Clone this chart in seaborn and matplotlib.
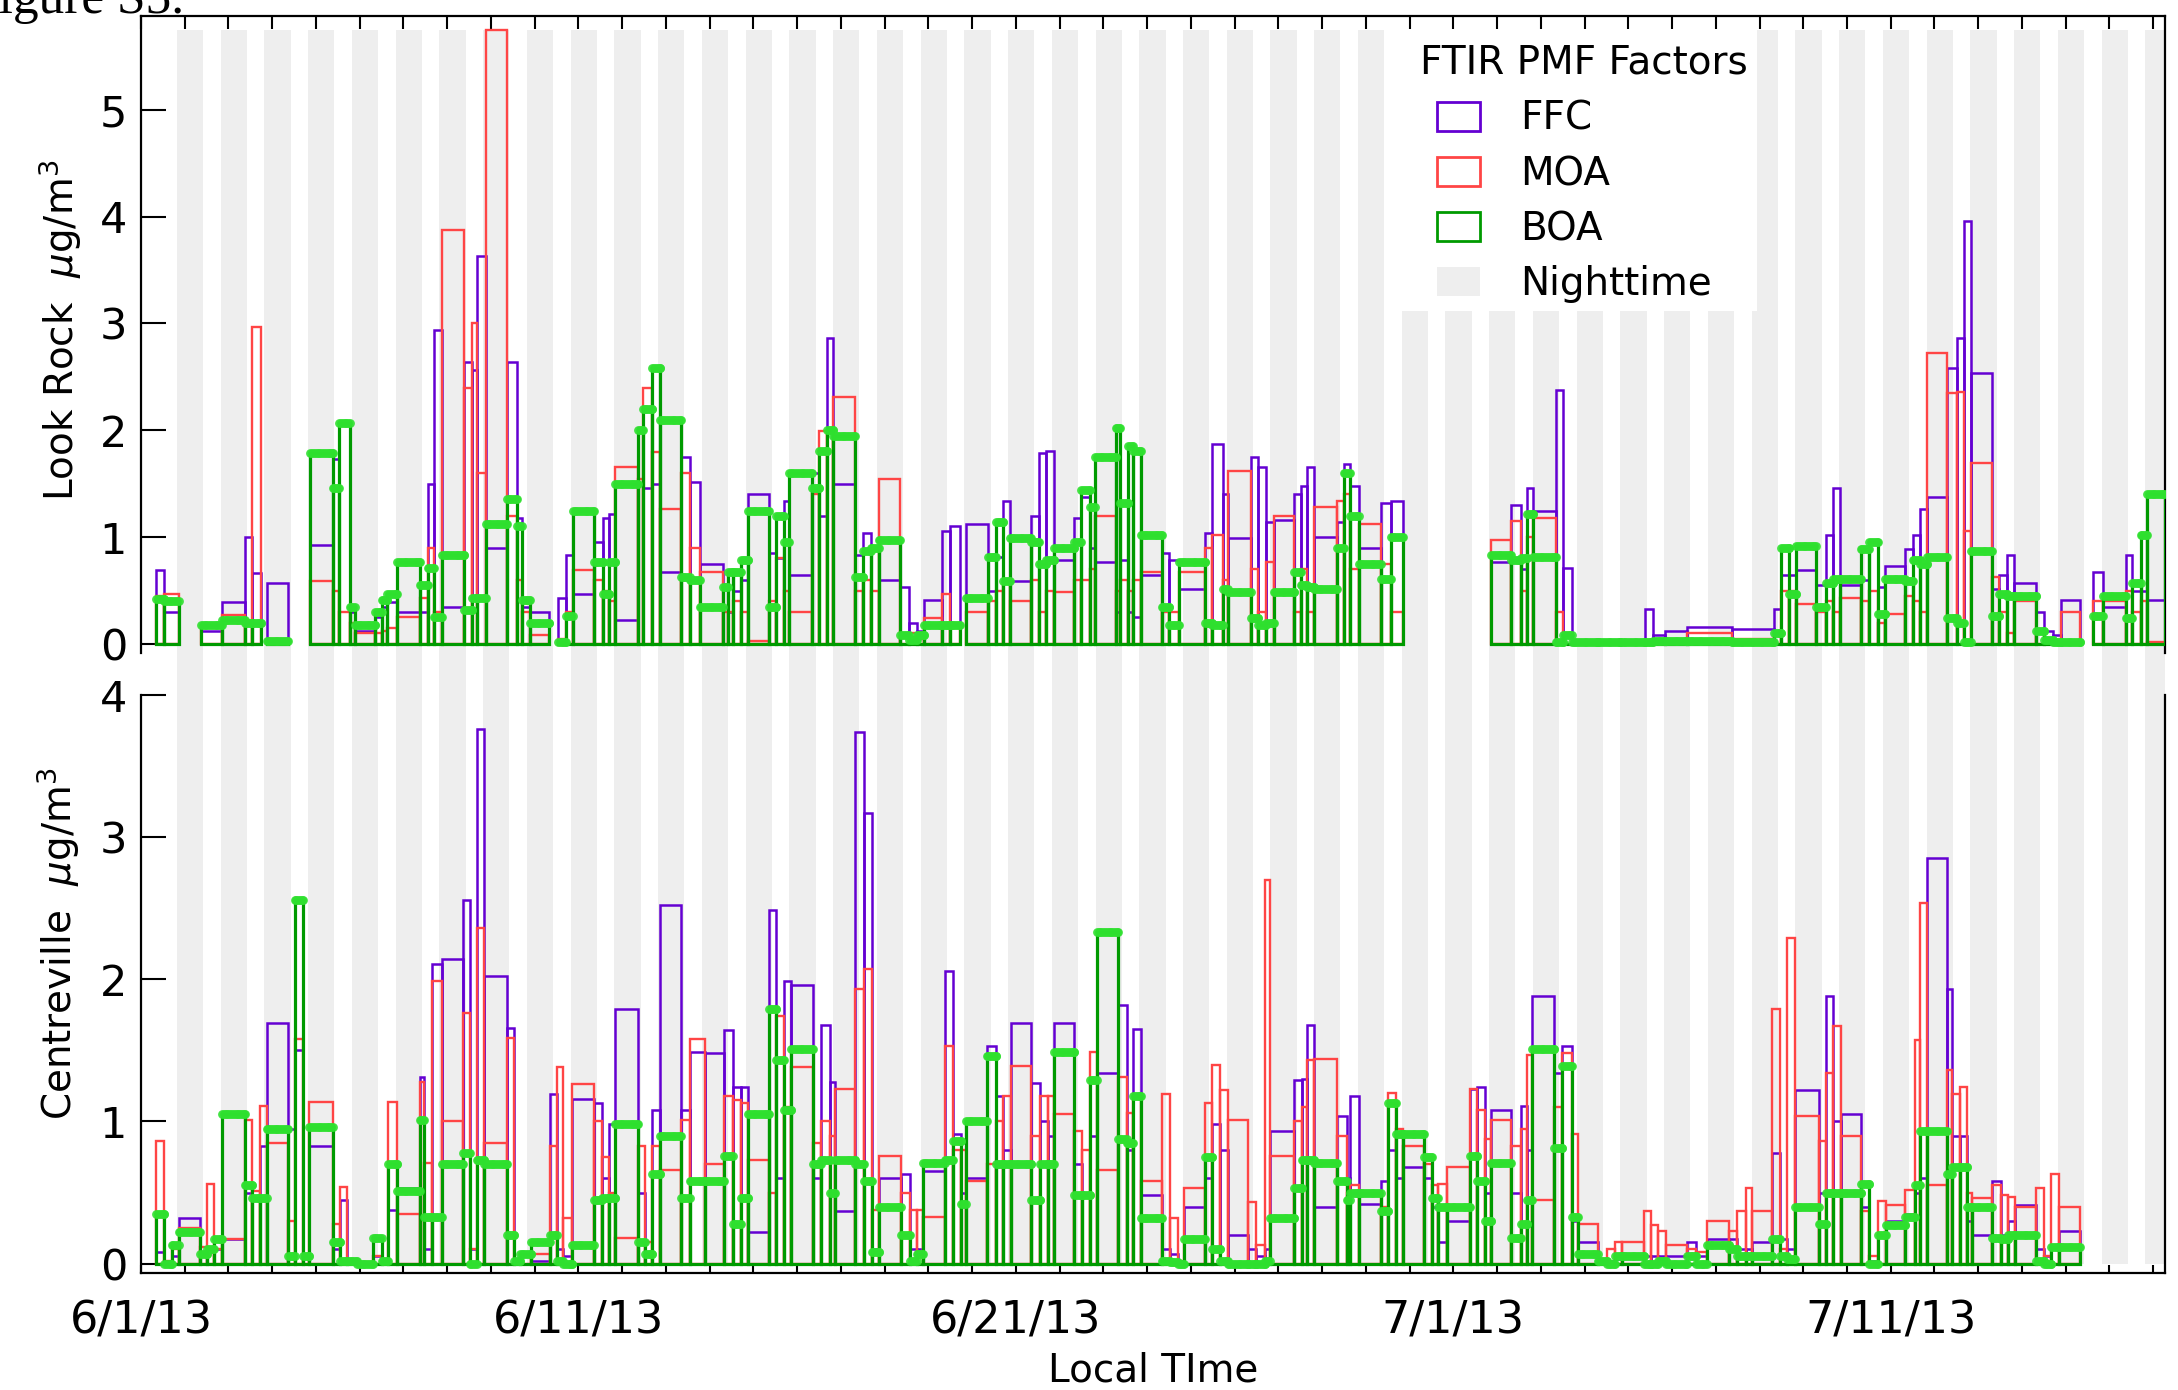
import numpy as np
import pandas as pd
import matplotlib
matplotlib.use("Agg")
import matplotlib.pyplot as plt
from matplotlib.patches import Patch, Rectangle
import seaborn as sns

# ---------------------------------------------------------------- data
# Time axis: days since 6/1/13 00:00 local time.
date_label_days = [0, 10, 20, 30, 40]
date_labels = ["6/1/13", "6/11/13", "6/21/13", "7/1/13", "7/11/13"]
x_end = 46.27

# Nighttime shading (local hours), repeated every day of the campaign
night_on_hour = 19.7
night_off_hour = 10.1
n_days = 46

# Look Rock filter samples: start, end (days) and factor loadings (ug/m3)
lr_start = [0.35, 0.53, 1.37, 1.85, 2.37, 2.54, 2.87, 3.87, 4.38, 4.53, 4.77, 4.89, 5.35, 5.50,
            5.63, 5.86, 6.37, 6.55, 6.69, 6.88, 7.39, 7.57, 7.69, 7.88, 8.36, 8.59, 8.71, 8.90,
            9.53, 9.71, 9.87, 10.35, 10.57, 10.70, 10.84, 11.37, 11.47, 11.69, 11.86, 12.34, 12.54,
            12.77, 13.30, 13.42, 13.53, 13.71, 13.88, 14.35, 14.52, 14.70, 14.81, 15.34, 15.51,
            15.69, 15.83, 16.33, 16.51, 16.68, 16.86, 17.36, 17.55, 17.73, 17.90, 18.31, 18.49,
            18.86, 19.36, 19.54, 19.71, 19.86, 20.35, 20.53, 20.70, 20.88, 21.34, 21.50, 21.69,
            21.81, 22.28, 22.39, 22.57, 22.68, 22.86, 23.33, 23.50, 23.73, 24.32, 24.49, 24.73,
            24.84, 25.37, 25.54, 25.72, 25.89, 26.36, 26.51, 26.65, 26.82, 27.35, 27.49, 27.64,
            27.84, 28.34, 28.57, 30.87, 31.32, 31.55, 31.69, 31.83, 32.34, 32.51, 32.71, 33.30,
            33.81, 34.38, 34.57, 34.83, 35.34, 36.36, 37.33, 37.50, 37.67, 37.84, 38.29, 38.52,
            38.69, 38.83, 39.31, 39.51, 39.71, 39.88, 40.33, 40.50, 40.67, 40.84, 41.29, 41.52,
            41.67, 41.83, 42.31, 42.48, 42.65, 42.82, 43.33, 43.50, 43.71, 43.90, 44.62, 44.86,
            45.37, 45.52, 45.71, 45.86]
lr_end = [0.53, 0.86, 1.85, 2.37, 2.54, 2.75, 3.36, 4.38, 4.53, 4.77, 4.89, 5.35, 5.50, 5.63,
          5.86, 6.37, 6.55, 6.69, 6.88, 7.39, 7.57, 7.69, 7.88, 8.36, 8.59, 8.71, 8.90, 9.33,
          9.71, 9.87, 10.35, 10.57, 10.70, 10.84, 11.37, 11.47, 11.69, 11.86, 12.34, 12.54, 12.77,
          13.30, 13.42, 13.53, 13.71, 13.88, 14.35, 14.52, 14.70, 14.81, 15.34, 15.51, 15.69,
          15.83, 16.33, 16.51, 16.68, 16.86, 17.36, 17.55, 17.73, 17.90, 18.31, 18.49, 18.72,
          19.36, 19.54, 19.71, 19.86, 20.35, 20.53, 20.70, 20.88, 21.34, 21.50, 21.69, 21.81,
          22.28, 22.39, 22.57, 22.68, 22.86, 23.33, 23.50, 23.73, 24.32, 24.49, 24.73, 24.84,
          25.37, 25.54, 25.72, 25.89, 26.36, 26.51, 26.65, 26.82, 27.35, 27.49, 27.64, 27.84,
          28.34, 28.57, 28.84, 31.32, 31.55, 31.69, 31.83, 32.34, 32.51, 32.71, 33.30, 33.81,
          34.38, 34.57, 34.83, 35.34, 36.36, 37.33, 37.50, 37.67, 37.84, 38.29, 38.52, 38.69,
          38.83, 39.31, 39.51, 39.71, 39.88, 40.33, 40.50, 40.67, 40.84, 41.29, 41.52, 41.67,
          41.83, 42.31, 42.48, 42.65, 42.82, 43.33, 43.50, 43.71, 43.90, 44.32, 44.86, 45.37,
          45.52, 45.71, 45.86, 46.27]
lr_ffc = [0.69, 0.30, 0.12, 0.39, 1.00, 0.66, 0.57, 0.93, 1.73, 2.05, 0.30, 0.12, 0.25, 0.35,
          0.39, 0.30, 0.30, 1.50, 2.94, 0.35, 2.64, 2.56, 3.63, 0.90, 2.64, 1.18, 0.35, 0.30,
          0.43, 0.83, 0.47, 0.95, 1.18, 1.22, 0.22, 2.02, 1.46, 1.50, 0.67, 1.75, 1.52,
          0.75, 0.35, 0.30, 0.50, 0.60, 1.40, 0.85, 0.80, 1.34, 0.65, 1.60, 1.20,
          2.86, 1.50, 0.83, 1.04, 0.90, 0.60, 0.53, 0.20, 0.12, 0.41, 1.06, 1.10,
          1.12, 0.50, 0.81, 1.34, 0.59, 1.20, 1.79, 1.81, 0.79, 1.18, 1.38, 0.90,
          0.77, 0.30, 0.79, 0.30, 0.25, 0.65, 0.85, 0.79, 0.51, 1.04, 1.87, 1.40,
          0.99, 1.75, 1.66, 1.14, 1.16, 1.40, 1.48, 1.66, 1.00, 1.14, 1.68, 1.48,
          0.90, 1.32, 1.34, 0.77, 1.30, 0.70, 1.46, 1.24, 2.38, 0.71, 0.04, 0.04,
          0.04, 0.33, 0.08, 0.12, 0.16, 0.14, 0.33, 0.65, 0.65, 0.69, 0.55, 1.02,
          1.46, 0.55, 0.60, 0.97, 0.53, 0.73, 0.89, 1.02, 1.26, 1.38, 2.58, 2.86,
          3.96, 2.54, 0.51, 0.65, 0.83, 0.57, 0.30, 0.12, 0.08, 0.41, 0.67, 0.35,
          0.83, 0.50, 0.50, 0.41]
lr_moa = [0.45, 0.47, 0.15, 0.27, 0.20, 2.97, 0.05, 0.59, 0.50, 0.30, 0.20, 0.10, 0.10, 0.12,
          0.15, 0.25, 0.43, 0.90, 0.30, 3.87, 2.40, 3.00, 1.60, 5.75, 1.20, 0.60, 0.30, 0.08,
          0.05, 0.30, 0.69, 0.60, 0.50, 0.40, 1.66, 1.54, 2.40, 1.80, 1.26, 1.60, 0.90,
          0.67, 0.30, 0.30, 0.40, 0.30, 0.03, 0.40, 0.80, 0.50, 0.30, 1.40, 1.99,
          2.00, 2.31, 0.50, 0.60, 0.50, 1.54, 0.10, 0.10, 0.05, 0.24, 0.47, 0.20,
          0.30, 0.40, 0.50, 0.60, 0.40, 0.60, 0.30, 0.50, 0.49, 0.60, 0.60, 0.70,
          1.20, 0.50, 0.60, 0.50, 0.60, 0.67, 0.30, 0.30, 0.67, 0.90, 1.02, 0.60,
          1.62, 0.70, 0.30, 0.77, 1.20, 0.30, 0.70, 0.30, 1.28, 1.34, 1.40, 0.70,
          1.12, 0.75, 0.30, 0.97, 1.15, 0.50, 1.00, 1.18, 0.30, 0.10, 0.03, 0.02,
          0.02, 0.03, 0.03, 0.05, 0.10, 0.05, 0.10, 0.50, 0.50, 0.37, 0.30, 0.40,
          0.30, 0.43, 0.40, 0.50, 0.20, 0.28, 0.45, 0.40, 0.30, 2.72, 2.35, 2.36,
          1.06, 1.69, 0.63, 0.30, 0.10, 0.40, 0.10, 0.05, 0.03, 0.30, 0.40, 0.40,
          0.50, 0.30, 0.40, 0.02]
lr_boa = [0.42, 0.40, 0.18, 0.22, 0.20, 0.20, 0.03, 1.79, 1.46, 2.07, 0.35, 0.18, 0.30, 0.41,
          0.47, 0.77, 0.55, 0.71, 0.25, 0.83, 0.32, 0.43, 0.43, 1.12, 1.36, 1.10, 0.41, 0.20,
          0.02, 0.26, 1.24, 0.77, 0.47, 0.77, 1.50, 2.00, 2.20, 2.58, 2.10, 0.63, 0.60,
          0.35, 0.53, 0.67, 0.67, 0.79, 1.24, 0.35, 1.20, 0.95, 1.60, 1.46, 1.81,
          2.00, 1.95, 0.63, 0.87, 0.90, 0.97, 0.08, 0.04, 0.08, 0.18, 0.18, 0.18,
          0.43, 0.81, 1.14, 0.59, 0.99, 0.95, 0.75, 0.79, 0.90, 0.95, 1.44, 1.28,
          1.75, 2.02, 1.32, 1.85, 1.81, 1.02, 0.35, 0.18, 0.77, 0.20, 0.18, 0.51,
          0.49, 0.24, 0.18, 0.20, 0.49, 0.67, 0.55, 0.53, 0.51, 0.90, 1.60, 1.20,
          0.75, 0.61, 1.00, 0.83, 0.79, 0.80, 1.22, 0.81, 0.02, 0.08, 0.02, 0.02,
          0.02, 0.02, 0.03, 0.03, 0.03, 0.02, 0.10, 0.90, 0.47, 0.92, 0.35, 0.57,
          0.61, 0.61, 0.89, 0.95, 0.28, 0.61, 0.59, 0.79, 0.75, 0.81, 0.24, 0.20,
          0.02, 0.87, 0.26, 0.47, 0.45, 0.45, 0.12, 0.04, 0.02, 0.02, 0.26, 0.45,
          0.24, 0.57, 1.02, 1.40]

# Centreville filter samples
ct_start = [0.35, 0.53, 0.70, 0.86, 1.35, 1.52, 1.67, 1.85, 2.37, 2.54, 2.72, 2.87, 3.36, 3.51,
            3.71, 3.85, 4.38, 4.55, 4.71, 4.94, 5.30, 5.50, 5.65, 5.86, 6.37, 6.47, 6.65, 6.88,
            7.37, 7.51, 7.67, 7.85, 8.36, 8.53, 8.66, 8.92, 9.35, 9.51, 9.65, 9.86, 10.35, 10.55,
            10.70, 10.84, 11.37, 11.52, 11.69, 11.86, 12.34, 12.54, 12.89, 13.33, 13.53, 13.71,
            13.88, 14.35, 14.52, 14.70, 14.87, 15.36, 15.54, 15.75, 15.86, 16.33, 16.53, 16.70,
            16.88, 17.38, 17.58, 17.73, 17.87, 18.37, 18.57, 18.74, 18.86, 19.33, 19.54, 19.71,
            19.89, 20.35, 20.56, 20.73, 20.88, 21.34, 21.52, 21.69, 21.85, 22.33, 22.53, 22.68,
            22.86, 23.33, 23.52, 23.70, 23.85, 24.32, 24.49, 24.67, 24.84, 25.31, 25.48, 25.69,
            25.81, 26.36, 26.53, 26.65, 26.82, 27.35, 27.56, 27.64, 27.84, 28.34, 28.51, 28.69,
            28.86, 29.33, 29.51, 29.66, 29.86, 30.38, 30.55, 30.73, 30.87, 31.32, 31.55, 31.69,
            31.81, 32.31, 32.49, 32.71, 32.85, 33.30, 33.51, 33.70, 33.85, 34.36, 34.53, 34.69,
            34.87, 35.34, 35.55, 35.80, 36.31, 36.48, 36.70, 36.82, 37.29, 37.47, 37.63, 37.81,
            38.35, 38.52, 38.69, 38.86, 39.33, 39.51, 39.71, 39.90, 40.33, 40.56, 40.67, 40.84,
            41.29, 41.41, 41.58, 41.75, 41.86, 42.31, 42.51, 42.69, 42.85, 43.33, 43.50, 43.67,
            43.84]
ct_end = ct_start[1:] + [44.32]
ct_ffc = [0.08, 0.02, 0.05, 0.32, 0.08, 0.10, 0.10, 0.17, 0.50, 0.45, 0.83, 1.69, 0.95, 1.50,
          0.05, 0.83, 0.10, 0.45, 0.02, 0.01, 0.05, 0.02, 0.38, 0.53, 1.31, 0.10, 2.11, 2.14,
          2.56, 0.10, 3.76, 2.02, 1.66, 0.02, 0.05, 0.02, 1.19, 0.10, 0.05, 1.16, 1.13, 0.60,
          0.98, 1.79, 0.50, 0.05, 1.08, 2.52, 1.08, 1.49, 1.48, 1.64, 1.24, 1.24,
          0.22, 2.49, 0.60, 1.99, 1.96, 0.60, 1.68, 1.28, 0.37, 3.74, 3.17, 0.10,
          0.60, 0.63, 0.10, 0.10, 0.65, 2.06, 0.91, 0.50, 0.60, 1.53, 1.18, 0.80,
          1.69, 1.27, 1.00, 0.90, 1.69, 0.70, 0.50, 0.90, 1.34, 1.82, 0.80, 1.65,
          0.48, 0.10, 0.07, 0.02, 0.40, 0.60, 0.98, 0.80, 0.20, 0.10, 0.05, 0.10,
          0.93, 1.29, 1.30, 1.68, 0.40, 1.04, 0.60, 1.18, 0.42, 0.58, 0.80, 0.60,
          0.68, 0.60, 0.40, 0.15, 0.30, 1.23, 1.24, 0.50, 1.08, 0.50, 1.11, 0.80,
          1.88, 1.34, 1.53, 0.30, 0.15, 0.02, 0.02, 0.03, 0.05, 0.05, 0.05, 0.05,
          0.05, 0.15, 0.05, 0.17, 0.17, 0.10, 0.10, 0.15, 0.78, 0.17, 0.10, 1.22,
          0.50, 1.88, 1.00, 1.05, 0.40, 0.02, 0.20, 0.30, 0.35, 0.50, 0.60, 2.85,
          1.93, 0.90, 0.90, 0.30, 0.20, 0.58, 0.20, 0.30, 0.41, 0.10, 0.05, 0.10,
          0.23]
ct_moa = [0.86, 0.02, 0.10, 0.25, 0.12, 0.56, 0.10, 0.17, 1.01, 0.51, 1.11, 0.85, 0.30, 1.58,
          0.05, 1.14, 0.28, 0.54, 0.01, 0.01, 0.05, 0.02, 1.14, 0.35, 1.28, 0.71, 1.99, 1.00,
          1.76, 0.10, 2.36, 0.85, 1.59, 0.02, 0.05, 0.07, 0.83, 1.38, 0.32, 1.26, 1.00, 0.75,
          0.50, 0.18, 0.83, 0.15, 0.83, 0.66, 1.01, 1.58, 0.70, 1.18, 1.15, 1.13,
          0.73, 0.50, 1.74, 1.10, 1.38, 0.85, 1.00, 0.90, 1.23, 1.93, 2.07, 0.38,
          0.76, 0.50, 0.38, 0.38, 0.33, 1.53, 0.80, 0.80, 0.58, 0.70, 1.00, 1.18,
          1.39, 0.90, 1.18, 1.18, 1.05, 0.93, 0.80, 1.49, 0.66, 1.31, 1.06, 1.19,
          0.58, 1.19, 0.32, 0.02, 0.53, 1.13, 1.40, 1.22, 1.01, 0.43, 0.13, 2.70,
          0.76, 1.00, 1.10, 1.43, 1.44, 0.90, 0.50, 0.55, 0.48, 0.40, 1.20, 0.95,
          0.83, 0.70, 0.55, 0.56, 0.68, 1.23, 1.08, 0.88, 1.01, 0.83, 0.95, 1.47,
          0.45, 1.10, 1.48, 0.91, 0.28, 0.03, 0.10, 0.15, 0.15, 0.37, 0.27, 0.23,
          0.13, 0.10, 0.08, 0.30, 0.23, 0.37, 0.53, 0.37, 1.79, 0.10, 2.29, 1.04,
          0.86, 1.34, 1.67, 0.90, 0.37, 0.05, 0.44, 0.41, 0.52, 1.57, 2.54, 0.55,
          1.36, 1.19, 1.24, 0.50, 0.46, 0.55, 0.48, 0.47, 0.40, 0.53, 0.05, 0.63,
          0.40]
ct_boa = [0.35, 0.00, 0.13, 0.22, 0.07, 0.10, 0.17, 1.05, 0.55, 0.46, 0.46, 0.95, 0.05, 2.56,
          0.05, 0.96, 0.15, 0.02, 0.02, 0.00, 0.18, 0.02, 0.70, 0.51, 1.01, 0.33, 0.33, 0.70,
          0.78, 0.00, 0.73, 0.70, 0.20, 0.02, 0.07, 0.15, 0.20, 0.02, 0.00, 0.13, 0.45, 0.46,
          0.46, 0.98, 0.15, 0.07, 0.63, 0.90, 0.46, 0.58, 0.58, 0.76, 0.28, 0.46,
          1.05, 1.79, 1.43, 1.08, 1.51, 0.70, 0.73, 0.50, 0.73, 0.70, 0.58, 0.08,
          0.40, 0.20, 0.02, 0.07, 0.71, 0.73, 0.86, 0.42, 1.00, 1.46, 0.70, 0.70,
          0.70, 0.45, 0.70, 0.70, 1.49, 0.48, 0.48, 1.29, 2.33, 0.88, 0.85, 1.18,
          0.32, 0.02, 0.01, 0.00, 0.17, 0.75, 0.10, 0.02, 0.00, 0.00, 0.00, 0.02,
          0.32, 0.53, 0.73, 0.73, 0.71, 0.58, 0.45, 0.50, 0.50, 0.37, 1.13, 0.91,
          0.91, 0.75, 0.46, 0.40, 0.40, 0.76, 0.58, 0.30, 0.71, 0.18, 0.28, 0.45,
          1.51, 0.81, 1.39, 0.33, 0.07, 0.02, 0.00, 0.05, 0.05, 0.00, 0.00, 0.02,
          0.00, 0.05, 0.00, 0.13, 0.10, 0.05, 0.05, 0.05, 0.17, 0.05, 0.03, 0.40,
          0.28, 0.50, 0.50, 0.50, 0.56, 0.00, 0.20, 0.27, 0.33, 0.55, 0.93, 0.93,
          0.63, 0.68, 0.68, 0.40, 0.40, 0.18, 0.17, 0.20, 0.20, 0.02, 0.00, 0.12,
          0.12]

factor_names = ["FFC", "MOA", "BOA"]
factor_colors = ["#6400d2", "#ff4545", "#009a00"]
marker_color = "#2fe02f"
night_color = "#eeeeee"

# ---------------------------------------------------------------- style
sns.set_theme(style="white")
plt.rcParams["font.family"] = ["DejaVu Sans"]
plt.rcParams["text.color"] = "black"
plt.rcParams["axes.labelcolor"] = "black"
plt.rcParams["xtick.color"] = "black"
plt.rcParams["ytick.color"] = "black"
plt.rcParams["mathtext.fontset"] = "dejavusans"

W, H = 2178, 1390


def box(x0, y0, x1, y1):
    """Pixel box (left, top, right, bottom) -> figure fraction rect."""
    return [x0 / W, 1 - y1 / H, (x1 - x0) / W, (y1 - y0) / H]


fig = plt.figure(figsize=(W / 100, H / 100), dpi=100)

# nighttime shading behind both panels
ax_bg = fig.add_axes(box(141, 30, 2165, 1264))
ax_bg.set_xlim(0, x_end)
ax_bg.set_ylim(0, 1)
ax_bg.axis("off")
for d in range(n_days):
    ax_bg.axvspan(d + night_on_hour / 24, d + 1 + night_off_hour / 24,
                  color=night_color, lw=0, zorder=1)
# white backing of the legend
ax_bg.add_patch(Rectangle((1402 / W, 1 - 311 / H), (1757 - 1402) / W, (311 - 10) / H,
                          transform=fig.transFigure, facecolor="white",
                          edgecolor="none", zorder=2))

ax_top = fig.add_axes(box(141, 15.7, 2165, 652.5))
ax_bot = fig.add_axes(box(141, 695, 2165, 1272.7))


def draw_panel(ax, t0, t1, ffc, moa, boa):
    t0 = np.asarray(t0, dtype=float)
    w = np.asarray(t1, dtype=float) - t0
    widths = [1.8, 1.7, 2.3]
    for vals, col, lw, z in zip((ffc, moa, boa), factor_colors, widths, (3, 4, 5)):
        ax.bar(t0, vals, width=w, align="edge", fill=False, edgecolor=col,
               linewidth=lw, zorder=z)
    # BOA markers along the top of each sample, one per hour
    rows = []
    for a, b, v in zip(t0, t0 + w, boa):
        for t in np.append(np.arange(a, b, 1 / 24), b):
            rows.append((t, v))
    pts = pd.DataFrame(rows, columns=["t", "v"])
    sns.scatterplot(data=pts, x="t", y="v", ax=ax, color=marker_color, s=40,
                    linewidth=0, alpha=0.9, zorder=6, legend=False)
    ax.set_xlabel("")
    ax.set_ylabel("")


draw_panel(ax_top, lr_start, lr_end, lr_ffc, lr_moa, lr_boa)
draw_panel(ax_bot, ct_start, ct_end, ct_ffc, ct_moa, ct_boa)

# zero line of the Centreville panel, under the bars
ax_bot.hlines(0, 0, ct_end[-1], color="black", linewidth=1.4, zorder=2)

for ax in (ax_top, ax_bot):
    ax.set_facecolor("none")
    ax.set_xlim(0, x_end)
    ax.grid(False)
    for s in ax.spines.values():
        s.set_color("black")
        s.set_linewidth(1.6)
    ax.tick_params(axis="y", direction="in", length=18, width=1.5,
                   labelsize=31, pad=10, left=True, right=False)

ax_top.set_ylim(-0.08, 5.88)
ax_top.set_yticks(range(6))
ax_top.spines["bottom"].set_visible(False)
ax_top.xaxis.set_ticks_position("top")
ax_top.set_xticks(range(n_days + 1))
ax_top.tick_params(axis="x", direction="in", length=9, width=1.5,
                   labeltop=False, labelbottom=False)

ax_bot.set_ylim(-0.064, 4.0)
ax_bot.set_yticks(range(5))
ax_bot.spines["top"].set_visible(False)
ax_bot.xaxis.set_ticks_position("bottom")
day_ticks = list(range(n_days + 1))
ax_bot.set_xticks(day_ticks)
ax_bot.set_xticklabels([date_labels[date_label_days.index(d)] if d in date_label_days else ""
                        for d in day_ticks])
ax_bot.tick_params(axis="x", direction="in", length=6, width=1.5,
                   labelsize=32, pad=19)

# axis titles
fig.text(60 / W, 1 - 330 / H, "Look Rock  $\\mu$g/m$^3$", rotation=90,
         ha="center", va="center", fontsize=28)
fig.text(58 / W, 1 - 944 / H, "Centreville  $\\mu$g/m$^3$", rotation=90,
         ha="center", va="center", fontsize=28)
fig.text(1153 / W, 1 - 1381 / H, "Local TIme", ha="center", va="baseline", fontsize=28)

# caption fragment at the very top
fig.text(-30 / W, 1 - 13.3 / H, "Figure S5.", ha="left", va="baseline",
         fontsize=37, family=["Liberation Serif", "DejaVu Serif"])

# legend
handles = [Patch(facecolor="white", edgecolor=c, linewidth=2) for c in factor_colors]
handles.append(Patch(facecolor=night_color, edgecolor="none"))
fig.text(1420 / W, 1 - 62 / H, "FTIR PMF Factors", ha="left", va="center", fontsize=28)
fig.legend(handles, factor_names + ["Nighttime"], loc="upper left",
           bbox_to_anchor=(1437 / W, 1 - 100 / H), bbox_transform=fig.transFigure,
           frameon=False, fontsize=28, handlelength=1.1, handleheight=0.77,
           handletextpad=1.05, labelspacing=0.44, borderpad=0, borderaxespad=0)

fig.savefig("out.png", dpi=100)
